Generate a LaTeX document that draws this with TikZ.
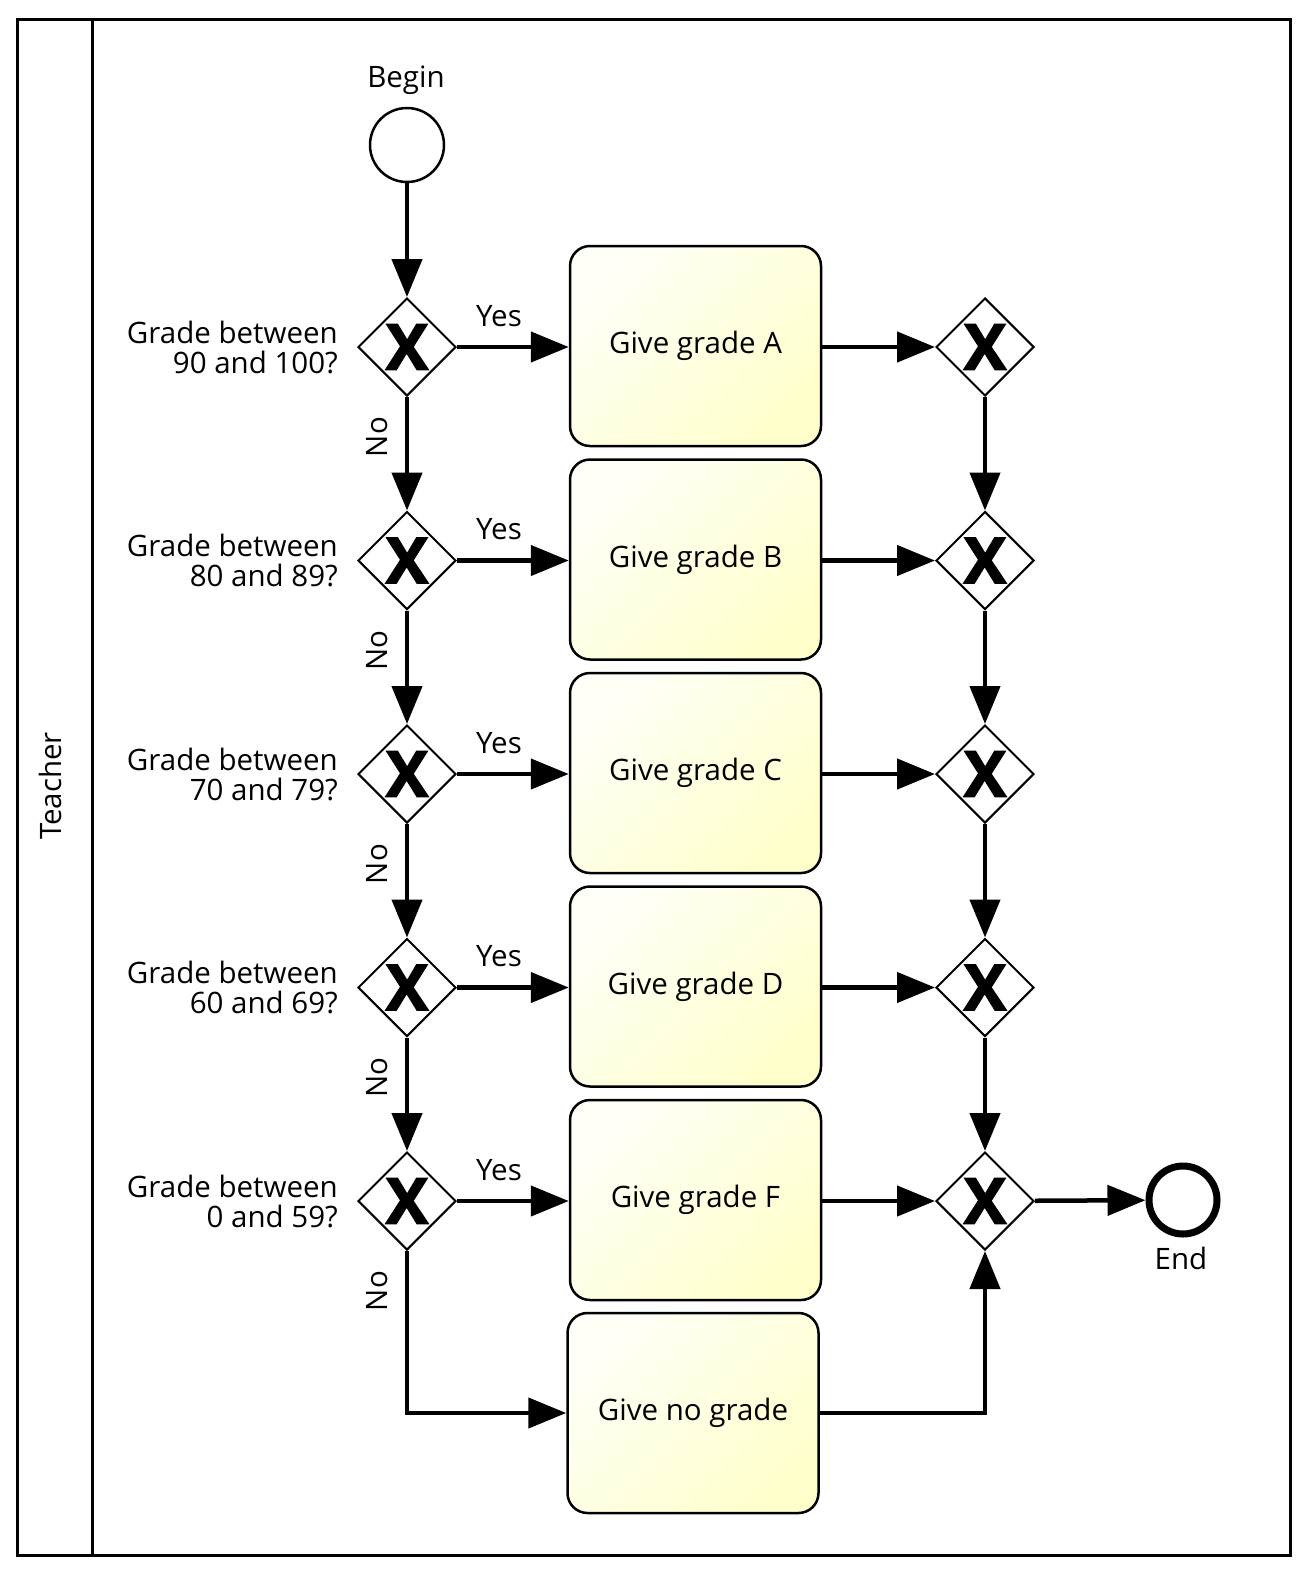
\documentclass[tikz,border=0pt]{standalone}
\usepackage{fontspec}
\setmainfont{Open Sans}
\newfontfamily\xfont[FakeBold=2.5]{Open Sans}
\usetikzlibrary{arrows.meta,shapes.geometric}
\begin{document}
\begin{tikzpicture}[x=1pt,y=-1pt,
  txt/.style={font=\fontsize{29.5}{30}\selectfont, text=black, inner sep=0pt},
  gw/.style={diamond, draw, line width=2pt, fill=white, minimum width=98pt, minimum height=98pt, inner sep=0pt, font=\fontsize{63}{63}\xfont\bfseries},
  task/.style={rectangle, rounded corners=20pt, draw, line width=2.5pt, minimum width=251pt, minimum height=200pt, top color=yellow!3, bottom color=yellow!20, shading angle=45, font=\fontsize{29.5}{30}\selectfont},
  flow/.style={line width=4.5pt, -{Triangle[length=38pt,width=30pt]}},
  lane/.style={line width=3pt}
]
\useasboundingbox (0,0) rectangle (1305,1575);
% lane
\draw[lane] (17,19.5) rectangle (1290,1555);
\draw[lane] (92.5,19.5) -- (92.5,1555);
\node[txt, rotate=90] (teacher) at (50,786) {Teacher};
% start / end
\node[circle, draw, line width=2.5pt, minimum size=74pt, inner sep=0pt] (start) at (407,145) {};
\node[txt] (beginlbl) at (406,80) {Begin};
\node[circle, draw, line width=7pt, minimum size=68pt, inner sep=0pt] (end) at (1183,1200) {};
\node[txt] (endlbl) at (1181,1258) {End};
% gateways, tasks
\foreach \i/\y/\g/\q in {1/347/A/{90 and 100?},2/560.5/B/{80 and 89?},3/774/C/{70 and 79?},4/987.5/D/{60 and 69?},5/1201/F/{0 and 59?}}{
  \node[gw] (g\i) at (407,\y) {X};
  \node[gw] (m\i) at (985,\y) {X};
  \node[task] (t\i) at (695.5,\y-1) {Give grade \g};
  \node[txt, anchor=east, align=right] (q\i) at (338,\y) {Grade between\\\q};
  \node[txt] (yes\i) at (499,\y-31) {Yes};
  \node[txt, rotate=90] (no\i) at (377,\y+90) {No};
}
\node[task] (t6) at (693,1413) {Give no grade};
% flows
\draw[flow] (start) -- (g1);
\foreach \i/\j in {1/2,2/3,3/4,4/5}{
  \draw[flow] (g\i) -- (g\j);
  \draw[flow] (m\i) -- (m\j);
}
\foreach \i in {1,...,5}{
  \draw[flow] (g\i) -- (t\i.west |- g\i);
  \draw[flow] (t\i.east |- m\i) -- (m\i);
}
\draw[flow] (g5.south) |- (t6.west);
\draw[flow] (t6.east) -| (m5.south);
\draw[flow] (m5) -- (end);
\end{tikzpicture}
\end{document}
